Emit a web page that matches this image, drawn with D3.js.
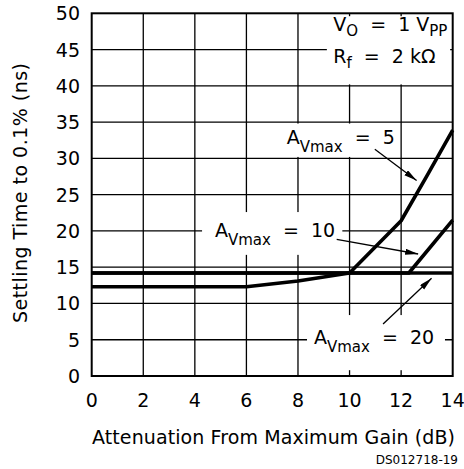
<!DOCTYPE html>
<html><head><meta charset="utf-8">
<script src="https://cdn.jsdelivr.net/npm/d3@7"></script>
<style>
body{margin:0;background:#fff}
svg{display:block}
text{font-family:"DejaVu Sans";fill:#000;white-space:pre}
</style>
</head><body>
<svg id="c" width="464" height="469"></svg>
<script>
// ---- data ----
const xTicks = [0, 2, 4, 6, 8, 10, 12, 14];
const yTicks = [0, 5, 10, 15, 20, 25, 30, 35, 40, 45, 50];
const av5X  = [0, 6, 8, 10, 12, 13, 14];
const av5Y  = [12.3, 12.3, 13.1, 14.2, 21.4, 27.6, 33.9];
const av10X = [0, 12.3, 14];
const av10Y = [14.2, 14.2, 21.5];
const av20X = [0, 14];
const av20Y = [14.2, 14.2];
const seriesNames = ["5", "10", "20"];
const xTitle = "Attenuation From Maximum Gain (dB)";
const yTitle = "Settling Time to 0.1% (ns)";
const docId = "DS012718-19";

// ---- layout ----
const svg = d3.select("#c");
const x = d3.scaleLinear().domain([0, 14]).range([91.7, 452.7]);
const y = d3.scaleLinear().domain([0, 50]).range([376, 13.3]);

// grid
const g = svg.append("g");
g.selectAll("line.v").data(xTicks.slice(1, -1)).join("line")
  .attr("x1", d => x(d)).attr("x2", d => x(d))
  .attr("y1", y(0)).attr("y2", y(50))
  .attr("stroke", "#000").attr("stroke-width", 1.3);
g.selectAll("line.h").data(yTicks.slice(1, -1)).join("line")
  .attr("x1", x(0)).attr("x2", x(14))
  .attr("y1", d => y(d)).attr("y2", d => y(d))
  .attr("stroke", "#000").attr("stroke-width", 1.3);

// white masks behind labels (data-space rects: x0,x1,y0,y1)
const masks = [
  [6.55, 11.8, 30.2, 34.8],
  [4.28, 9.72, 16.7, 22.6],
  [8.35, 13.7, 0.8, 8.4],
  [9.12, 13.9, 40.2, 49.6]
];
svg.selectAll("rect.m").data(masks).join("rect")
  .attr("x", d => x(d[0])).attr("width", d => x(d[1]) - x(d[0]))
  .attr("y", d => y(d[3])).attr("height", d => y(d[2]) - y(d[3]))
  .attr("fill", "#fff");

// frame
svg.append("rect").attr("x", x(0)).attr("y", y(50))
  .attr("width", x(14) - x(0)).attr("height", y(0) - y(50))
  .attr("fill", "none").attr("stroke", "#000").attr("stroke-width", 2);

// data lines
const line = d3.line().x(d => x(d[0])).y(d => y(d[1]));
const series = [
  d3.zip(av5X, av5Y),
  d3.zip(av10X, av10Y),
  d3.zip(av20X, av20Y)
];
svg.selectAll("path.s").data(series).join("path")
  .attr("d", line).attr("fill", "none").attr("stroke", "#000")
  .attr("stroke-width", 3.6).attr("stroke-linejoin", "round");

// arrows
svg.append("defs").append("marker").attr("id", "ah")
  .attr("markerUnits", "userSpaceOnUse").attr("markerWidth", 14).attr("markerHeight", 8)
  .attr("refX", 13).attr("refY", 3).attr("orient", "auto")
  .append("path").attr("d", "M0,0 L13,3 L0,6 Z").attr("fill", "#000");
const arrows = [
  [10.98, 31.25, 12.60, 26.95],
  [9.50, 18.84, 12.66, 16.82],
  [11.30, 7.17, 13.18, 13.47]
];
svg.selectAll("line.a").data(arrows).join("line")
  .attr("x1", d => x(d[0])).attr("y1", d => y(d[1]))
  .attr("x2", d => x(d[2])).attr("y2", d => y(d[3]))
  .attr("stroke", "#000").attr("stroke-width", 1.3).attr("marker-end", "url(#ah)");

// series labels  A_Vmax = n
const labelPos = [[7.56, 32.05], [4.78, 19.12], [8.62, 4.37]];
seriesNames.forEach((n, i) => {
  const t = svg.append("text").attr("x", x(labelPos[i][0])).attr("y", y(labelPos[i][1]))
    .attr("font-size", 19);
  t.append("tspan").text("A");
  t.append("tspan").attr("font-size", 15).attr("dy", 8).text("Vmax");
  t.append("tspan").attr("dy", -8).text("  =  " + n);
});

// conditions box
const c1 = svg.append("text").attr("x", x(9.37)).attr("y", y(47.6)).attr("font-size", 19);
c1.append("tspan").text("V");
c1.append("tspan").attr("font-size", 15).attr("dy", 5).text("O");
c1.append("tspan").attr("dy", -5).text("  =  1 V");
c1.append("tspan").attr("font-size", 15).attr("dy", 5).text("PP");
const c2 = svg.append("text").attr("x", x(9.37)).attr("y", y(43.1)).attr("font-size", 19);
c2.append("tspan").text("R");
c2.append("tspan").attr("font-size", 15).attr("dy", 5).text("f");
c2.append("tspan").attr("dy", -5).text("  =  2 kΩ");

// tick labels
svg.selectAll("text.xt").data(xTicks).join("text")
  .attr("x", d => x(d)).attr("y", 407).attr("text-anchor", "middle")
  .attr("font-size", 19).text(d => d);
svg.selectAll("text.yt").data(yTicks).join("text")
  .attr("x", 80).attr("y", d => y(d) + 7).attr("text-anchor", "end")
  .attr("font-size", 19).text(d => d);

// axis titles
svg.append("text").attr("x", 92).attr("y", 444)
  .attr("textLength", 363).attr("lengthAdjust", "spacing")
  .attr("font-size", 19).text(xTitle);
svg.append("text").attr("transform", "translate(27,323) rotate(-90)")
  .attr("textLength", 260).attr("lengthAdjust", "spacing")
  .attr("font-size", 19).text(yTitle);

svg.append("text").attr("x", 458).attr("y", 464).attr("text-anchor", "end")
  .attr("font-family", "Liberation Sans").attr("font-size", 12).text(docId);
</script>
</body></html>
